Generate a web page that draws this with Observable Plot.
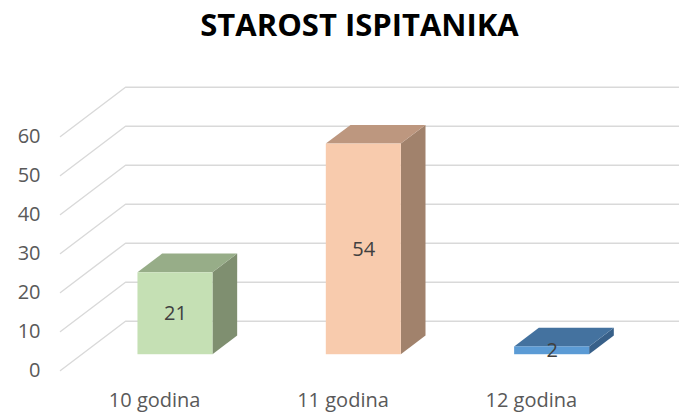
<!DOCTYPE html>
<html>
<head>
<meta charset="utf-8">
<script src="https://cdn.jsdelivr.net/npm/d3@7"></script>
<script src="https://cdn.jsdelivr.net/npm/@observablehq/plot@0.6"></script>
<style>
  html, body { margin: 0; padding: 0; background: #fff; }
  body { width: 679px; height: 414px; overflow: hidden; font-family: "Open Sans", sans-serif; }
  #title { height: 60px; line-height: 48px; font-size: 31px; font-weight: 700; color: #000; text-align: center; padding-left: 40px; box-sizing: border-box; white-space: nowrap; }
</style>
</head>
<body>
<div id="title">STAROST ISPITANIKA</div>
<div id="chart"></div>
<script>
// ---- data ----
const categories = ["10 godina", "11 godina", "12 godina"];
const values = [21, 54, 2];
const yTicks = [0, 10, 20, 30, 40, 50, 60];
const frontColors = ["#C5E0B4", "#F8CBAD", "#5B9BD5"];
const topColors = ["#97AD88", "#BD977F", "#44729F"];
const sideColors = ["#7F8F70", "#A1826C", "#386089"];

// ---- layout (pixels) ----
const W = 679, H = 354, mL = 60, mR = 54, mT = 76, mB = 44;
const kx = (W - mL - mR) / 3;      // px per category unit
const ky = (H - mT - mB) / 60;     // px per value unit
const DX = 65 / kx, DY = 49.3 / ky; // oblique depth of the chart box in data units
const f0 = 0.32, f1 = 0.70;         // bar front / back depth fraction
const halfW = 37.5 / kx;
const xEnd = (W - mL) / kx - 0.5;
const FS = 20;

const bars = categories.map((c, i) => ({i, c, v: values[i], front: frontColors[i], top: topColors[i], side: sideColors[i]}));

const grid = yTicks.flatMap(t => [
  {t, x: -0.5, y: t},
  {t, x: -0.5 + DX, y: t + DY},
  {t, x: xEnd, y: t + DY}
]);

const topRows = bars.flatMap(b => [
  {i: b.i, y: b.v + f0 * DY, x1: b.i + f0 * DX - halfW, x2: b.i + f0 * DX + halfW, fill: b.top},
  {i: b.i, y: b.v + f1 * DY, x1: b.i + f1 * DX - halfW, x2: b.i + f1 * DX + halfW, fill: b.top}
]);

const sideRows = bars.flatMap(b => [
  {i: b.i, x: b.i + f0 * DX + halfW, y1: f0 * DY, y2: b.v + f0 * DY, fill: b.side},
  {i: b.i, x: b.i + f1 * DX + halfW, y1: f1 * DY, y2: b.v + f1 * DY, fill: b.side}
]);

const chart = Plot.plot({
  width: W, height: H,
  marginLeft: mL, marginRight: mR, marginTop: mT, marginBottom: mB,
  style: {fontFamily: "Open Sans", background: "white", color: "#595959", overflow: "visible"},
  x: {type: "linear", domain: [-0.5, 2.5]},
  y: {type: "linear", domain: [0, 60]},
  color: {type: "identity"},
  marks: [
    Plot.line(grid, {x: "x", y: "y", z: "t", stroke: "#D9D9D9", strokeWidth: 1.4}),
    Plot.areaY(sideRows, {x: "x", y1: "y1", y2: "y2", z: "i", fill: "fill"}),
    Plot.areaX(topRows, {y: "y", x1: "x1", x2: "x2", z: "i", fill: "fill"}),
    Plot.rect(bars, {
      x1: b => b.i + f0 * DX - halfW, x2: b => b.i + f0 * DX + halfW,
      y1: f0 * DY, y2: b => b.v + f0 * DY, fill: "front"
    }),
    Plot.text(bars, {
      x: b => b.i + f0 * DX, y: b => b.v / 2 + f0 * DY, text: b => String(b.v),
      fill: "#404040", fontSize: FS
    }),
    Plot.axisY(yTicks, {tickSize: 0, tickPadding: 20, fontSize: FS, color: "#595959"}),
    Plot.axisX([0, 1, 2], {tickFormat: i => categories[i], tickSize: 0, tickPadding: 22, fontSize: FS, color: "#595959"})
  ]
});
document.getElementById("chart").appendChild(chart);
</script>
</body>
</html>
